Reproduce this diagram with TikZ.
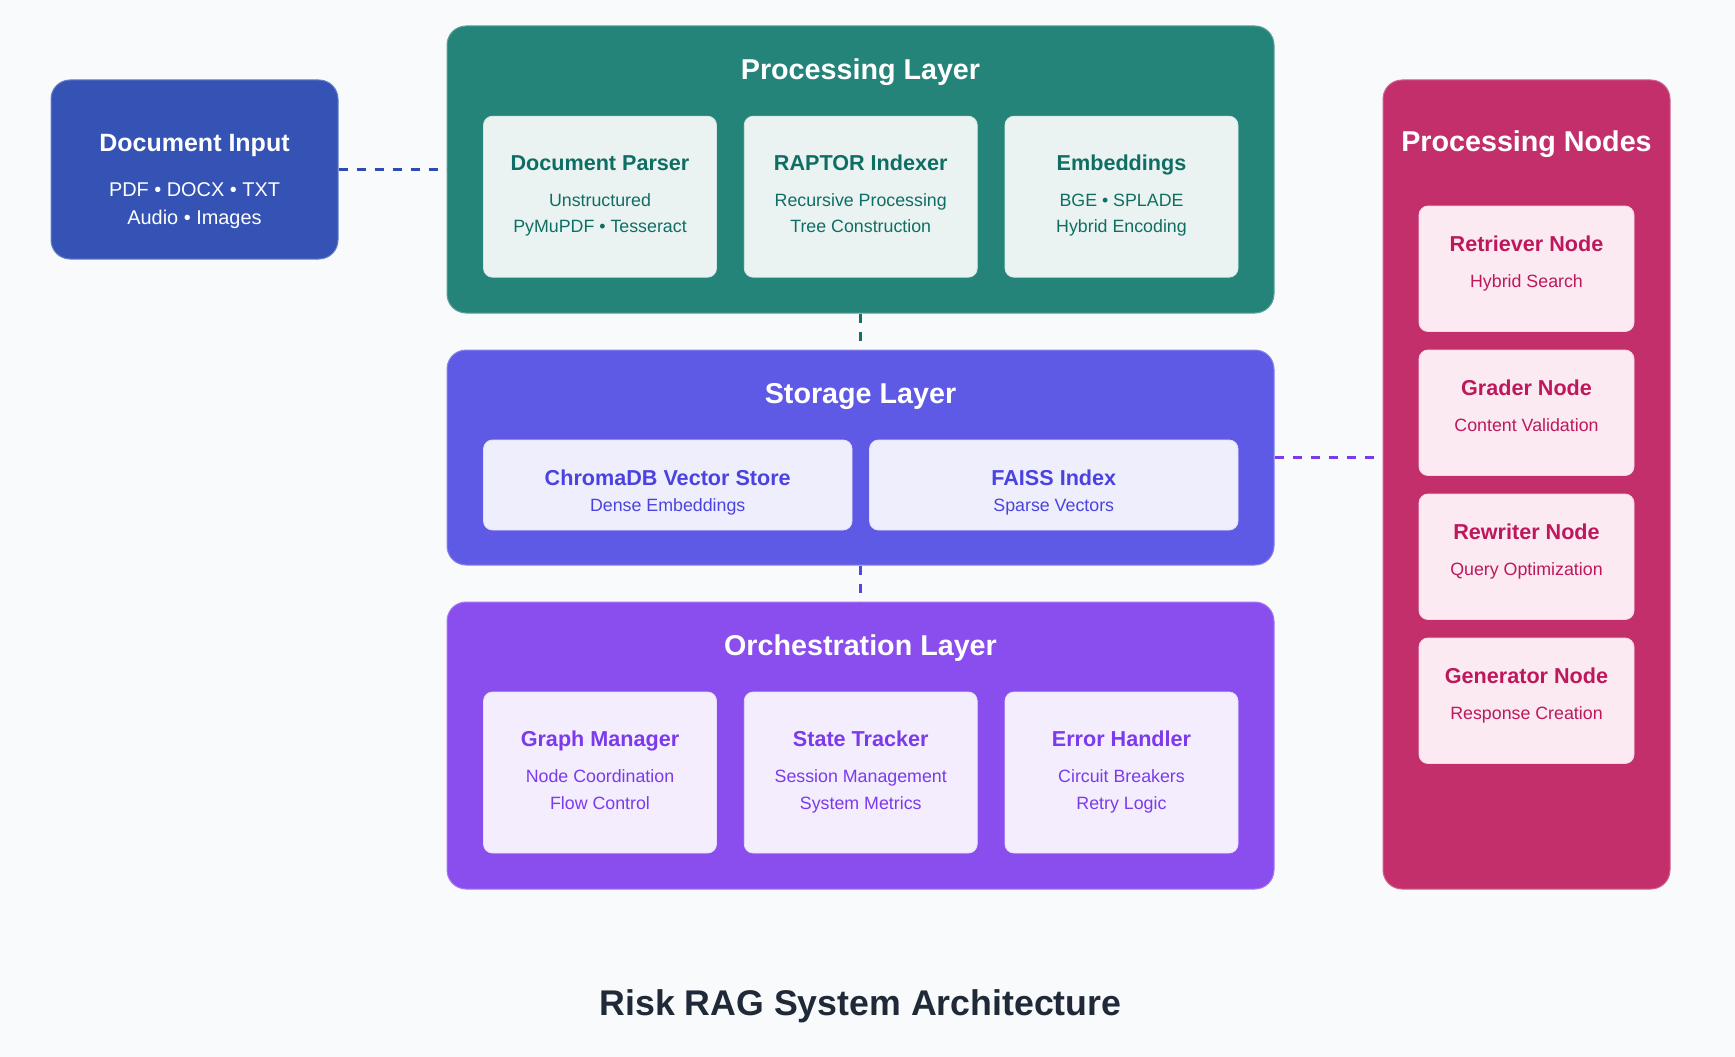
\documentclass[tikz,border=0pt]{standalone}
\usepackage{fontspec}
\setmainfont{Liberation Sans}
\definecolor{bg}{HTML}{F8FAFC}
\definecolor{docC}{HTML}{3453B5}
\definecolor{procC}{HTML}{25847A}
\definecolor{storC}{HTML}{5F5AE5}
\definecolor{orchC}{HTML}{8A4DEE}
\definecolor{nodeC}{HTML}{C22F6A}
\definecolor{procIn}{HTML}{EAF3F1}
\definecolor{procT}{HTML}{0F6E64}
\definecolor{storIn}{HTML}{EFEEFD}
\definecolor{storT}{HTML}{4B43E0}
\definecolor{orchIn}{HTML}{F3EDFD}
\definecolor{orchT}{HTML}{7C3AED}
\definecolor{nodeIn}{HTML}{FBEAF1}
\definecolor{nodeT}{HTML}{BE185D}
\definecolor{titleC}{HTML}{1F2937}
\definecolor{lnDoc}{HTML}{2F4BB3}
\definecolor{lnProc}{HTML}{137166}
\definecolor{lnStor}{HTML}{4F46E5}
\definecolor{lnOrch}{HTML}{7C3AED}
\begin{document}
\begin{tikzpicture}[x=1pt,y=-1pt,
  layer/.style={rectangle, rounded corners=19pt, inner sep=0pt, line width=1pt},
  card/.style={rectangle, rounded corners=9pt, inner sep=0pt, line width=0.8pt},
  bigtitle/.style={anchor=base, inner sep=0pt, text=white, font=\bfseries\fontsize{28.7}{34}\selectfont},
  doctitle/.style={anchor=base, inner sep=0pt, text=white, font=\bfseries\fontsize{25}{30}\selectfont},
  docline/.style={anchor=base, inner sep=0pt, text=white, font=\fontsize{19.9}{24}\selectfont},
  cardtitle/.style={anchor=base, inner sep=0pt, font=\bfseries\fontsize{21.6}{26}\selectfont},
  cardsub/.style={anchor=base, inner sep=0pt, font=\fontsize{17.8}{22}\selectfont},
  conn/.style={line width=3.3pt, dash pattern=on 9pt off 9pt},
]
\useasboundingbox[fill=bg] (0,0) rectangle (1735,1057);

% ---------- outer containers ----------
\node[layer, fill=docC, draw=docC!75!white, minimum width=287pt, minimum height=179pt] (doc) at (194.5,169.5) {};
\node[layer, fill=procC, draw=procC!75!white, minimum width=827pt, minimum height=287pt] (proc) at (860.5,169.5) {};
\node[layer, fill=storC, draw=storC!75!white, minimum width=827pt, minimum height=215pt] (stor) at (860.5,457.5) {};
\node[layer, fill=orchC, draw=orchC!75!white, minimum width=827pt, minimum height=287pt] (orch) at (860.5,745.5) {};
\node[layer, fill=nodeC, draw=nodeC!75!white, minimum width=287pt, minimum height=809pt] (nodes) at (1526.5,484.5) {};

% ---------- Document input ----------
\node[doctitle] (docT) at (194.5,151.7) {Document Input};
\node[docline] (docL1) at (194.5,196.7) {PDF • DOCX • TXT};
\node[docline] (docL2) at (194.5,224) {Audio • Images};

% ---------- Processing layer ----------
\node[bigtitle] (procTitle) at (860.5,80) {Processing Layer};
\node[card, fill=procIn, draw=procIn!90!procC, minimum width=233pt, minimum height=161pt] (parser) at (600,196.7) {};
\node[card, fill=procIn, draw=procIn!90!procC, minimum width=233pt, minimum height=161pt] (raptor) at (860.75,196.7) {};
\node[card, fill=procIn, draw=procIn!90!procC, minimum width=233pt, minimum height=161pt] (embed) at (1121.5,196.7) {};
\node[cardtitle, text=procT] (parserT) at (600,170.7) {Document Parser};
\node[cardsub, text=procT] (parserS1) at (600,206) {Unstructured};
\node[cardsub, text=procT] (parserS2) at (600,232.7) {PyMuPDF • Tesseract};
\node[cardtitle, text=procT] (raptorT) at (860.75,170.7) {RAPTOR Indexer};
\node[cardsub, text=procT] (raptorS1) at (860.75,206) {Recursive Processing};
\node[cardsub, text=procT] (raptorS2) at (860.75,232.7) {Tree Construction};
\node[cardtitle, text=procT] (embedT) at (1121.5,170.7) {Embeddings};
\node[cardsub, text=procT] (embedS1) at (1121.5,206) {BGE • SPLADE};
\node[cardsub, text=procT] (embedS2) at (1121.5,232.7) {Hybrid Encoding};

% ---------- Storage layer ----------
\node[bigtitle] (storTitle) at (860.5,403.3) {Storage Layer};
\node[card, fill=storIn, draw=storIn!90!storC, minimum width=368.5pt, minimum height=90pt] (chroma) at (667.75,485) {};
\node[card, fill=storIn, draw=storIn!90!storC, minimum width=368.5pt, minimum height=90pt] (faiss) at (1053.75,485) {};
\node[cardtitle, text=storT] (chromaT) at (667.75,485) {ChromaDB Vector Store};
\node[cardsub, text=storT] (chromaS) at (667.75,511) {Dense Embeddings};
\node[cardtitle, text=storT] (faissT) at (1053.75,485) {FAISS Index};
\node[cardsub, text=storT] (faissS) at (1053.75,511) {Sparse Vectors};

% ---------- Orchestration layer ----------
\node[bigtitle] (orchTitle) at (860.5,655) {Orchestration Layer};
\node[card, fill=orchIn, draw=orchIn!90!orchC, minimum width=233pt, minimum height=161pt] (graph) at (600,772.5) {};
\node[card, fill=orchIn, draw=orchIn!90!orchC, minimum width=233pt, minimum height=161pt] (state) at (860.75,772.5) {};
\node[card, fill=orchIn, draw=orchIn!90!orchC, minimum width=233pt, minimum height=161pt] (error) at (1121.5,772.5) {};
\node[cardtitle, text=orchT] (graphT) at (600,746) {Graph Manager};
\node[cardsub, text=orchT] (graphS1) at (600,782.3) {Node Coordination};
\node[cardsub, text=orchT] (graphS2) at (600,809) {Flow Control};
\node[cardtitle, text=orchT] (stateT) at (860.75,746) {State Tracker};
\node[cardsub, text=orchT] (stateS1) at (860.75,782.3) {Session Management};
\node[cardsub, text=orchT] (stateS2) at (860.75,809) {System Metrics};
\node[cardtitle, text=orchT] (errorT) at (1121.5,746) {Error Handler};
\node[cardsub, text=orchT] (errorS1) at (1121.5,782.3) {Circuit Breakers};
\node[cardsub, text=orchT] (errorS2) at (1121.5,809) {Retry Logic};

% ---------- Processing nodes ----------
\node[bigtitle] (nodesTitle) at (1526.5,151.7) {Processing Nodes};
\foreach \nm/\tp/\ti/\su in {retr/206/Retriever Node/Hybrid Search,
                             grad/350/Grader Node/Content Validation,
                             rewr/494/Rewriter Node/Query Optimization,
                             gene/638/Generator Node/Response Creation}{
  \node[card, fill=nodeIn, draw=nodeIn!90!nodeC, minimum width=215pt, minimum height=125.5pt] (\nm) at (1526.5,\tp+62.75) {};
  \node[cardtitle, text=nodeT] (\nm T) at (1526.5,\tp+45.7) {\ti};
  \node[cardsub, text=nodeT] (\nm S) at (1526.5,\tp+81.3) {\su};
}

% ---------- Bottom title ----------
\node[anchor=base, inner sep=0pt, text=titleC, font=\bfseries\fontsize{35.7}{42}\selectfont] (mainTitle) at (860.5,1015) {Risk RAG System Architecture};

% ---------- connectors ----------
\draw[conn, lnDoc] (doc.east) -- (proc.west);
\draw[conn, lnProc] (proc.south) -- (stor.north);
\draw[conn, lnStor] (stor.south) -- (orch.north);
\draw[conn, lnOrch] (stor.east) -- (stor.east -| nodes.west);
\end{tikzpicture}
\end{document}
